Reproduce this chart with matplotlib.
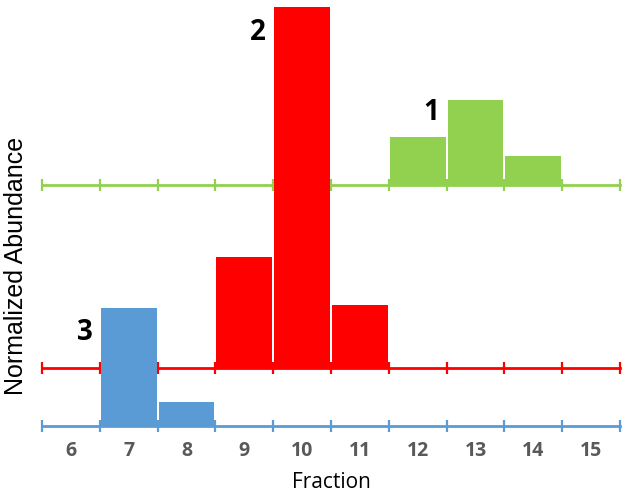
import matplotlib.pyplot as plt

# data
fractions = [6, 7, 8, 9, 10, 11, 12, 13, 14, 15]
green_x = [12, 13, 14]
green_h = [48, 85, 29]
red_x = [9, 10, 11]
red_h = [111, 361, 63]
blue_x = [7, 8]
blue_h = [118, 24]
# baseline offsets (blue at 0)
green_base = 241
red_base = 58
blue_base = 0

GREEN = '#92D050'
RED = '#FF0000'
BLUE = '#5B9BD5'

plt.rcParams['font.family'] = ['Open Sans', 'DejaVu Sans']

fig = plt.figure(figsize=(6.29, 5.0), dpi=100)
ax = fig.add_axes([42 / 629, 74 / 500, 578 / 629, 426 / 500])
ax.set_xlim(5.5, 15.5)
ax.set_ylim(0, 426)

edges = [f - 0.5 for f in fractions] + [fractions[-1] + 0.5]

# baselines with boundary ticks
for base, col in [(green_base, GREEN), (red_base, RED)]:
    ax.plot([5.5, 15.5], [base, base], color=col, lw=2, zorder=1, clip_on=False)
    ax.plot(edges, [base] * len(edges), ls='none', marker='|', ms=9, mew=1.6,
            color=col, zorder=1, clip_on=False)

bw = 0.965
ax.bar(green_x, green_h, width=bw, bottom=green_base, color=GREEN,
       linewidth=0, zorder=2)
ax.bar(red_x, red_h, width=bw, bottom=red_base, color=RED,
       linewidth=0, zorder=2)
ax.bar(blue_x, blue_h, width=bw, bottom=blue_base, color=BLUE,
       linewidth=0, zorder=3)

# bottom axis is the blue baseline
for s in ['top', 'right', 'left']:
    ax.spines[s].set_visible(False)
ax.spines['bottom'].set_color(BLUE)
ax.spines['bottom'].set_linewidth(2)
ax.set_yticks([])
ax.set_xticks(edges)
ax.set_xticklabels([])
ax.tick_params(axis='x', which='major', direction='inout', length=9,
               width=1.6, color=BLUE)
ax.set_xticks(fractions, minor=True)
ax.set_xticklabels([str(f) for f in fractions], minor=True)
ax.tick_params(axis='x', which='minor', length=0, pad=11, labelsize=14,
               labelcolor='#595959')
for lbl in ax.get_xticklabels(minor=True):
    lbl.set_fontweight('bold')

ax.set_xlabel('Fraction', fontsize=15, labelpad=8)
fig.text(16 / 629, 1 - 266 / 500, 'Normalized Abundance', rotation=90,
         fontsize=18, ha='center', va='center',
         family=['Liberation Sans', 'DejaVu Sans'])

ax.text(9.24, 394, '2', fontsize=20, fontweight='bold', ha='center', va='center')
ax.text(12.23, 314, '1', fontsize=20, fontweight='bold', ha='center', va='center')
ax.text(6.24, 94, '3', fontsize=20, fontweight='bold', ha='center', va='center')

fig.savefig('out.png', dpi=100)
